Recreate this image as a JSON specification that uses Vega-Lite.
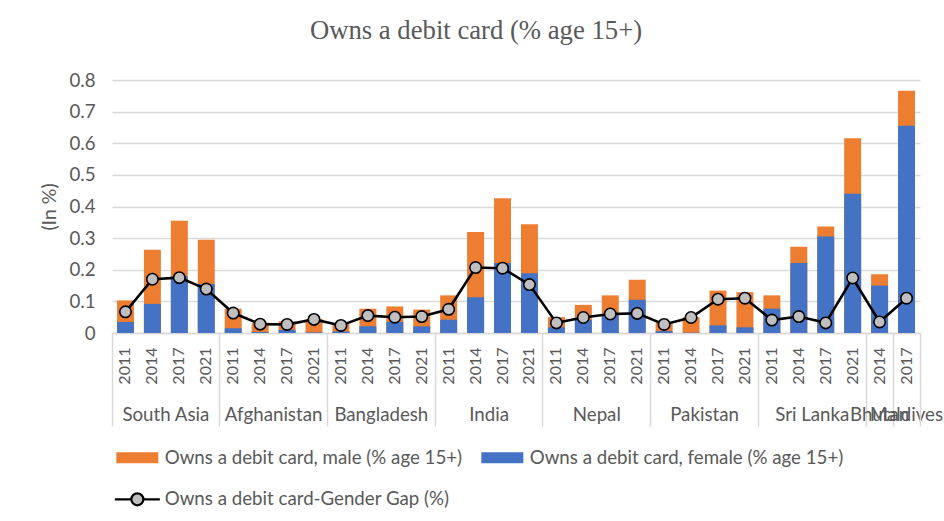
{
  "$schema": "https://vega.github.io/schema/vega-lite/v6.json",
  "width": 808,
  "height": 253,
  "autosize": {"type": "none"},
  "padding": {"left": 112, "top": 80, "right": 24, "bottom": 188},
  "background": "white",
  "title": {"text": "Owns a debit card (% age 15+)", "font": "Liberation Serif", "fontSize": 26.7, "fontWeight": "normal", "color": "#595959", "anchor": "middle", "dx": -40, "offset": 26},
  "data": {"values": [
    {"key": "South Asia|2011", "male": 0.103, "female": 0.035, "gap": 0.067},
    {"key": "South Asia|2014", "male": 0.263, "female": 0.092, "gap": 0.170},
    {"key": "South Asia|2017", "male": 0.355, "female": 0.179, "gap": 0.175},
    {"key": "South Asia|2021", "male": 0.295, "female": 0.155, "gap": 0.139},
    {"key": "Afghanistan|2011", "male": 0.077, "female": 0.015, "gap": 0.063},
    {"key": "Afghanistan|2014", "male": 0.031, "female": 0.003, "gap": 0.028},
    {"key": "Afghanistan|2017", "male": 0.037, "female": 0.010, "gap": 0.027},
    {"key": "Afghanistan|2021", "male": 0.044, "female": 0.002, "gap": 0.043},
    {"key": "Bangladesh|2011", "male": 0.028, "female": 0.005, "gap": 0.024},
    {"key": "Bangladesh|2014", "male": 0.077, "female": 0.021, "gap": 0.055},
    {"key": "Bangladesh|2017", "male": 0.084, "female": 0.035, "gap": 0.050},
    {"key": "Bangladesh|2021", "male": 0.074, "female": 0.021, "gap": 0.052},
    {"key": "India|2011", "male": 0.119, "female": 0.042, "gap": 0.075},
    {"key": "India|2014", "male": 0.319, "female": 0.113, "gap": 0.207},
    {"key": "India|2017", "male": 0.426, "female": 0.221, "gap": 0.205},
    {"key": "India|2021", "male": 0.344, "female": 0.189, "gap": 0.153},
    {"key": "Nepal|2011", "male": 0.050, "female": 0.018, "gap": 0.032},
    {"key": "Nepal|2014", "male": 0.089, "female": 0.042, "gap": 0.049},
    {"key": "Nepal|2017", "male": 0.119, "female": 0.059, "gap": 0.060},
    {"key": "Nepal|2021", "male": 0.168, "female": 0.105, "gap": 0.062},
    {"key": "Pakistan|2011", "male": 0.033, "female": 0.006, "gap": 0.027},
    {"key": "Pakistan|2014", "male": 0.050, "female": 0.001, "gap": 0.049},
    {"key": "Pakistan|2017", "male": 0.134, "female": 0.024, "gap": 0.107},
    {"key": "Pakistan|2021", "male": 0.129, "female": 0.018, "gap": 0.110},
    {"key": "Sri Lanka|2011", "male": 0.119, "female": 0.077, "gap": 0.041},
    {"key": "Sri Lanka|2014", "male": 0.273, "female": 0.221, "gap": 0.052},
    {"key": "Sri Lanka|2017", "male": 0.337, "female": 0.305, "gap": 0.032},
    {"key": "Sri Lanka|2021", "male": 0.616, "female": 0.440, "gap": 0.174},
    {"key": "Bhutan|2014", "male": 0.186, "female": 0.150, "gap": 0.035},
    {"key": "Maldives|2017", "male": 0.766, "female": 0.655, "gap": 0.110}
  ]},
  "encoding": {
    "y": {"type": "quantitative", "title": "(In %)", "scale": {"domain": [0, 0.8], "nice": false},
      "axis": {"title": "(In %)", "tickCount": 8, "format": ".1~f", "domain": false, "ticks": false, "grid": true, "gridColor": "#D9D9D9", "gridWidth": 1.5, "labelPadding": 17, "labelFontSize": 18.7, "labelOverlap": false, "titleFontSize": 19.5, "titlePadding": 9}}
  },
  "layer": [
    {
      "mark": {"type": "bar", "width": {"band": 0.63}},
      "encoding": {
        "x": {"field": "key", "type": "nominal", "sort": null,
          "scale": {"type": "band", "paddingInner": 0, "paddingOuter": 0},
          "axis": {"orient": "bottom", "title": null, "labelExpr": "split(datum.value, '|')[1]", "labelAngle": -90, "labelAlign": "right", "labelBaseline": "middle", "ticks": false, "domain": true, "domainColor": "#D9D9D9", "domainWidth": 1.5, "labelPadding": 14, "labelFontSize": 16, "grid": false, "labelOverlap": false}},
        "y": {"field": "male"},
        "color": {"datum": "Owns a debit card, male (% age 15+)", "type": "nominal",
          "scale": {"domain": ["Owns a debit card, male (% age 15+)", "Owns a debit card, female (% age 15+)", "Owns a debit card-Gender Gap (%)"], "range": ["#ED7D31", "#4472C4", "#BFBFBF"]},
          "legend": {"orient": "none", "legendX": 16, "legendY": 368, "title": null, "columns": 2, "direction": "horizontal", "symbolSize": 400, "labelOffset": 18, "labelFontSize": 18.7, "labelColor": "#595959", "labelLimit": 500, "columnPadding": 18, "rowPadding": 20, "padding": 0,
            "encode": {"symbols": {"update": {
              "shape": {"signal": "datum.value === 'Owns a debit card-Gender Gap (%)' ? 'M-2.25,0H-0.6M0.6,0H2.25M-0.6,0A0.6,0.6 0 1,0 0.6,0A0.6,0.6 0 1,0 -0.6,0' : 'M-2.1,-0.55H2.1V0.55H-2.1Z'"},
              "fill": {"signal": "datum.value === 'Owns a debit card-Gender Gap (%)' ? '#BFBFBF' : (datum.value === 'Owns a debit card, male (% age 15+)' ? '#ED7D31' : '#4472C4')"},
              "stroke": {"signal": "datum.value === 'Owns a debit card-Gender Gap (%)' ? '#000000' : 'transparent'"},
              "strokeWidth": {"signal": "datum.value === 'Owns a debit card-Gender Gap (%)' ? 2.2 : 0"},
              "opacity": {"value": 1}
            }}}}}
      }
    },
    {
      "mark": {"type": "bar", "width": {"band": 0.63}},
      "encoding": {
        "x": {"field": "key", "type": "nominal", "sort": null,
          "axis": {"orient": "bottom", "title": null, "values": ["South Asia|2014", "Afghanistan|2014", "Bangladesh|2014", "India|2014", "Nepal|2014", "Pakistan|2014", "Sri Lanka|2014"], "labelOffset": 13.47, "labelExpr": "split(datum.value, '|')[0]", "labelAngle": 0, "labelAlign": "center", "labelBaseline": "top", "ticks": false, "domain": false, "grid": false, "labelPadding": 72, "labelFontSize": 18.7, "labelOverlap": false}},
        "y": {"field": "female"},
        "color": {"datum": "Owns a debit card, female (% age 15+)", "type": "nominal"}
      }
    },
    {
      "mark": {"type": "line", "strokeWidth": 2.6, "stroke": "#000000"},
      "encoding": {
        "x": {"field": "key", "type": "nominal", "sort": null,
          "axis": {"orient": "bottom", "title": null, "values": ["South Asia|2011", "Afghanistan|2011", "Bangladesh|2011", "India|2011", "Nepal|2011", "Pakistan|2011", "Sri Lanka|2011", "Bhutan|2014", "Maldives|2017"], "bandPosition": 0, "labels": false, "ticks": true, "tickSize": 93, "tickColor": "#D9D9D9", "tickWidth": 1.5, "domain": false, "grid": false}},
        "y": {"field": "gap"}
      }
    },
    {
      "mark": {"type": "point", "filled": true, "stroke": "#000000", "strokeWidth": 1.6, "size": 130, "opacity": 1},
      "encoding": {
        "x": {"field": "key", "type": "nominal", "sort": null,
          "axis": {"orient": "bottom", "title": null, "values": ["Bhutan|2014", "Maldives|2017"], "labelExpr": "split(datum.value, '|')[0]", "labelAngle": 0, "labelAlign": "center", "labelBaseline": "top", "ticks": false, "domain": false, "grid": false, "labelPadding": 72, "labelFontSize": 18.7, "labelOverlap": false}},
        "y": {"field": "gap"},
        "color": {"datum": "Owns a debit card-Gender Gap (%)", "type": "nominal"}
      }
    },
    {
      "mark": {"type": "point", "opacity": 0},
      "encoding": {
        "x": {"field": "key", "type": "nominal", "sort": null,
          "axis": {"orient": "bottom", "title": null, "values": ["Maldives|2017"], "bandPosition": 1, "labels": false, "ticks": true, "tickSize": 93, "tickColor": "#D9D9D9", "tickWidth": 1.5, "domain": false, "grid": false}},
        "y": {"field": "gap"}
      }
    }
  ],
  "resolve": {"axis": {"x": "independent"}},
  "config": {
    "view": {"stroke": null},
    "axis": {"labelFont": "Lato", "titleFont": "Lato", "labelColor": "#595959", "titleColor": "#595959", "titleFontWeight": "normal"},
    "axisY": {"tickCount": 8},
    "legend": {"labelFont": "Lato"}
  }
}
